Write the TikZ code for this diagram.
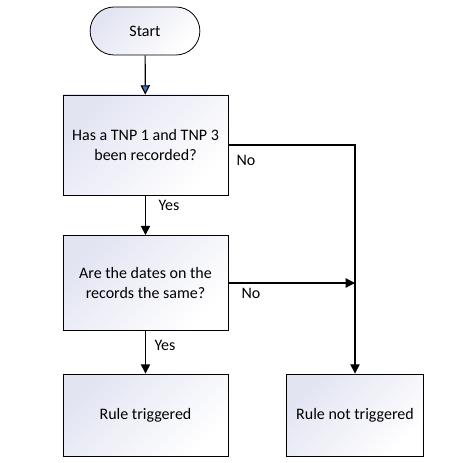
\documentclass[tikz,border=0pt]{standalone}
\usepackage{fontspec}
\setmainfont{Carlito}
\usetikzlibrary{shapes.misc, arrows.meta, positioning}
\definecolor{tipblue}{RGB}{68,114,196}
\definecolor{boxtint}{RGB}{226,228,242}

\begin{document}
\begin{tikzpicture}[x=0.75pt, y=-0.75pt, font=\fontsize{12}{15}\selectfont,
    box/.style={rectangle, draw, line width=0.6pt, top color=boxtint, bottom color=white, shading angle=45, align=center},
    flow/.style={-{Triangle[length=7pt, width=7pt]}, line width=0.9pt}]
                \useasboundingbox (0,0) rectangle (459,463);
                \node[box, rounded rectangle, minimum width=89pt, minimum height=36pt] (start) at (145,31) {Start};
                \node[box, minimum width=123.75pt, minimum height=75pt] (q1) at (145.5,145) {Has a TNP 1 and TNP 3\\been recorded?};
                \node[box, minimum width=123.75pt, minimum height=71.25pt] (q2) at (145.5,283) {Are the dates on the\\records the same?};
                \node[box, minimum width=123.75pt, minimum height=61.5pt] (rt) at (145.5,415) {Rule triggered};
                \node[box, minimum width=102.75pt, minimum height=61.5pt] (rn) at (355,415) {Rule not triggered};
                \coordinate (join) at (rn.north |- q2.east);
                \node (no1) at (246,160) {No};
                \node (yes1) at (169,205) {Yes};
                \node (no2) at (251,293) {No};
                \node (yes2) at (165,345) {Yes};
                \draw[flow, -{Triangle[length=7pt, width=7pt, fill=tipblue]}] (start) -- (q1);
                \draw[flow] (q1) -- (q2);
                \draw[flow] (q2) -- (rt);
                \draw[flow] (q2.east) -- (join);
                \draw[flow] (q1.east) -| (rn.north);
            \end{tikzpicture}
\end{document}
